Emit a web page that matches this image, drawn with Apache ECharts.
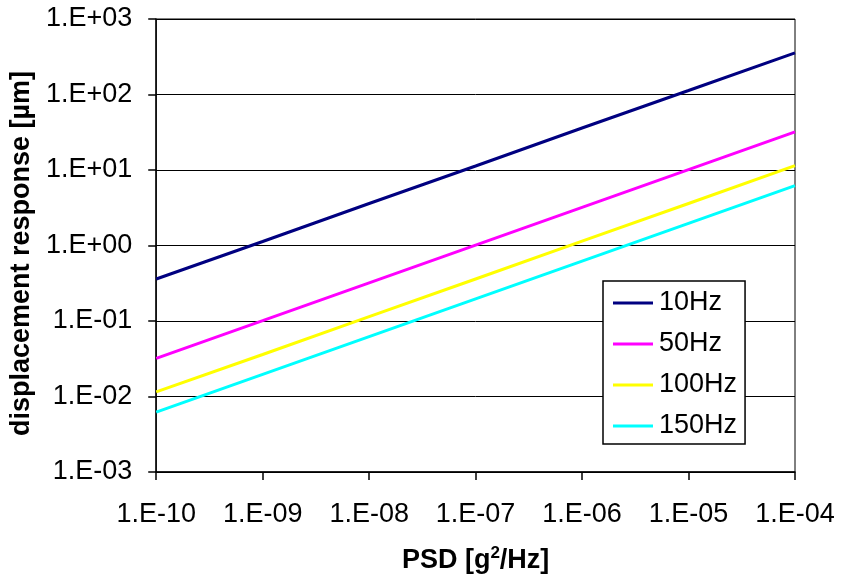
<!DOCTYPE html>
<html>
<head>
<meta charset="utf-8">
<script src="https://cdn.jsdelivr.net/npm/echarts@6/dist/echarts.min.js"></script>
<style>
  html, body { margin: 0; padding: 0; background: #fff; }
  #chart { width: 843px; height: 580px; }
</style>
</head>
<body>
<div id="chart"></div>
<script>
// PSD values (x) and displacement responses in µm (y), read per decade
const psd = [1e-10, 1e-9, 1e-8, 1e-7, 1e-6, 1e-5, 1e-4];
const seriesNames = ['10Hz', '50Hz', '100Hz', '150Hz'];
const resp10 = [0.36, 1.13, 3.6, 11.3, 36, 113, 355];
const resp50 = [0.032, 0.101, 0.32, 1.01, 3.2, 10.1, 32];
const resp100 = [0.0115, 0.036, 0.114, 0.36, 1.14, 3.6, 11.4];
const resp150 = [0.0062, 0.0196, 0.062, 0.196, 0.62, 1.96, 6.2];
const colors = ['#000080', '#ff00ff', '#ffff00', '#00ffff'];

const font = 'Liberation Sans, Arial, sans-serif';

// Excel style "1.E+03"
function sci(v) {
  const e = Math.round(Math.log10(v));
  return '1.E' + (e < 0 ? '-' : '+') + String(Math.abs(e)).padStart(2, '0');
}

const allResp = [resp10, resp50, resp100, resp150];
const chart = echarts.init(document.getElementById('chart'), null, { renderer: 'canvas' });

chart.setOption({
  backgroundColor: '#fff',
  animation: false,
  grid: {
    left: 155, right: 48, top: 19, bottom: 108,
    show: true, borderColor: '#000', borderWidth: 1, backgroundColor: 'transparent'
  },
  legend: {
    orient: 'vertical',
    left: 603, top: 281,
    padding: [7, 8, 3, 10],
    itemWidth: 40, itemHeight: 3,
    itemGap: 11,
    itemStyle: { borderWidth: 0 },
    icon: 'rect',
    borderColor: '#000', borderWidth: 1.5,
    backgroundColor: '#fff',
    textStyle: { fontFamily: font, fontSize: 27, color: '#000', lineHeight: 30, padding: [0, 0, 0, 1] },
    data: seriesNames
  },
  xAxis: {
    type: 'log', logBase: 10, min: 1e-10, max: 1e-4,
    name: 'PSD [g{sup|2}/Hz]',
    nameLocation: 'middle', nameGap: 73,
    nameTextStyle: {
      fontFamily: font, fontSize: 27, fontWeight: 'bold', color: '#000',
      rich: { sup: { fontFamily: font, fontSize: 17, fontWeight: 'bold', color: '#000', verticalAlign: 'top', padding: [0, 0, 14, 0] } }
    },
    axisLine: { show: true, lineStyle: { color: '#000', width: 1.5 } },
    axisTick: { show: true, inside: false, length: 8, lineStyle: { color: '#000', width: 1.5 } },
    axisLabel: { fontFamily: font, fontSize: 27, color: '#000', margin: 29, formatter: sci },
    splitLine: { show: false },
    minorTick: { show: false }
  },
  yAxis: {
    type: 'log', logBase: 10, min: 1e-3, max: 1e3,
    name: 'displacement response [µm]',
    nameLocation: 'middle', nameGap: 109,
    nameTextStyle: { fontFamily: font, fontSize: 27, fontWeight: 'bold', color: '#000', padding: [0, 16, 0, 0] },
    axisLine: { show: true, lineStyle: { color: '#000', width: 1.5 } },
    axisTick: { show: true, inside: false, length: 8, lineStyle: { color: '#000', width: 1.5 } },
    axisLabel: { fontFamily: font, fontSize: 27, color: '#000', margin: 24, formatter: sci },
    splitLine: { show: true, lineStyle: { color: '#000', width: 1 } },
    minorTick: { show: false }
  },
  series: seriesNames.map((name, i) => ({
    name,
    type: 'line',
    data: psd.map((x, j) => [x, allResp[i][j]]),
    showSymbol: false,
    symbol: 'none',
    lineStyle: { color: colors[i], width: 3 },
    itemStyle: { color: colors[i] }
  }))
});
</script>
</body>
</html>
